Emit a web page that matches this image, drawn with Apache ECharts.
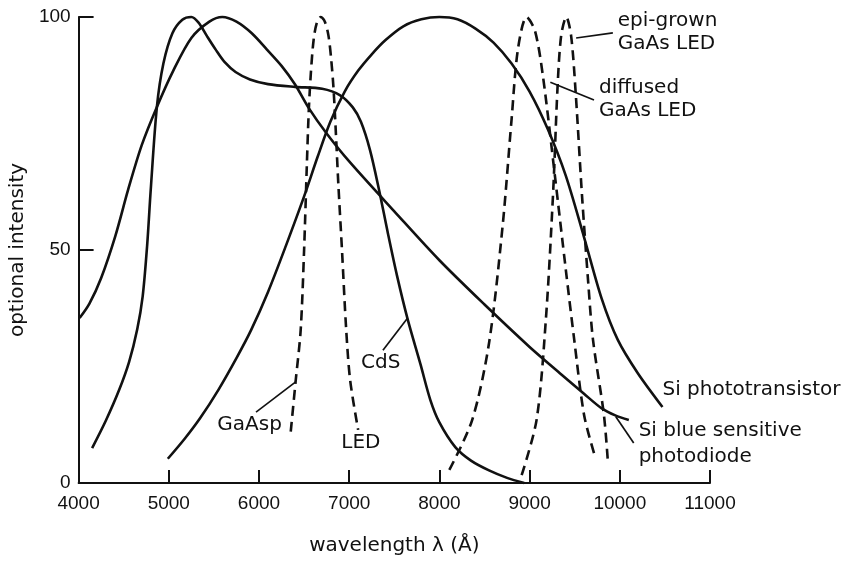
<!DOCTYPE html>
<html><head><meta charset="utf-8">
<script src="https://cdn.jsdelivr.net/npm/echarts@6/dist/echarts.min.js"></script>
<style>html,body{margin:0;padding:0;background:#fff}#c{width:849px;height:565px}</style>
</head><body><div id="c"></div>
<script>
// axis ranges / ticks
const xMin = 4000, xMax = 11000, xStep = 1000;
const yMin = 0, yMax = 100, yStep = 50;

// solid curves [wavelength (Å), intensity]
const cds = [[4150,7.5],[4300,13.3],[4450,20],[4560,26],[4650,33],[4710,40],[4760,51],[4800,63],[4868,80.7],[4940,90],[5040,96.5],[5150,99.4],[5250,100],[5330,98.8],[5420,96],[5520,93],[5620,90.3],[5740,88.2],[5900,86.6],[6100,85.6],[6400,85],[6700,84.6],[6900,83.2],[7040,80.6],[7130,77.5],[7230,71.5],[7330,63],[7430,53.5],[7530,44.5],[7650,35],[7790,25.5],[7900,17.8],[8000,13],[8176,7.7],[8350,4.8],[8550,2.7],[8750,1.1],[8940,0]];
const siBlue = [[4011,35.4],[4120,38.5],[4250,44],[4407,53],[4550,63],[4700,72.5],[4868,80.7],[5050,88.5],[5250,95.5],[5450,99],[5593,100],[5750,99],[5920,96.5],[6088,93],[6250,89.5],[6400,85.5],[6550,80.5],[6750,75],[7000,69],[7500,58.3],[8000,47.8],[8500,38.3],[9000,29.2],[9352,23.3],[9600,19.2],[9800,16],[9950,14.5],[10100,13.5]];
const siPhoto = [[4989,5.2],[5176,9.5],[5350,14],[5550,20],[5750,26.8],[5912,32.8],[6100,41],[6300,51],[6500,61.5],[6650,70],[6791,77.5],[6950,84],[7100,88.5],[7250,92],[7400,95],[7600,98],[7800,99.5],[8000,100],[8200,99.5],[8400,97.5],[8600,94.5],[8800,90],[9000,84],[9200,76],[9400,66],[9600,53],[9800,39.5],[9978,30.7],[10198,23.6],[10473,16.3]];
// dashed curves
const gaasp = [[6352,11],[6407,22],[6462,32.8],[6500,50],[6530,68],[6552,80],[6575,88],[6605,95],[6640,98.7],[6685,100],[6730,99],[6770,96],[6800,91],[6825,85],[6850,76],[6880,64],[6920,50],[6967,32.8],[7011,22],[7099,11.4]];
const diffused = [[8110,2.8],[8363,13.5],[8550,30],[8700,55],[8800,78],[8870,93],[8967,100],[9060,97],[9150,87],[9280,66],[9400,46],[9495,30.7],[9604,14.6],[9720,6]];
const epi = [[8912,1.7],[9077,13.5],[9180,35],[9260,62],[9310,85],[9350,96],[9407,100],[9460,96],[9510,84],[9580,62],[9650,43],[9703,30.7],[9824,14.6],[9870,4]];

// leader lines
const leaders = [
  [[9516,95.5],[9923,96.6]],
  [[9230,86],[9714,82.2]],
  [[9956,14.2],[10154,8.6]],
  [[7374,28.5],[7648,35.4]],
  [[5967,15.2],[6407,21.7]]
];
// annotation texts (left-middle anchor, in data coordinates)
const labelTexts = ['epi-grown','GaAs LED','diffused','GaAs LED','Si phototransistor','Si blue sensitive','photodiode','CdS','GaAsp','LED'];
const labelAt = [[9978,99.1],[9978,94.2],[9769,84.8],[9769,79.8],[10473,20],[10209,11.2],[10209,5.6],[7132,25.8],[5538,12.4],[6912,8.6]];

const ink = '#111';
const chart = echarts.init(document.getElementById('c'));
function curve(name, data, dashed){
  return {type:'line', name, data, smooth:0.3, symbol:'none', clip:false, silent:true,
    lineStyle:{color:ink, width:2.6, type: dashed ? [10,6] : 'solid', cap:'butt', join:'round'}};
}
const series = [
  curve('CdS', cds, false), curve('Si blue sensitive photodiode', siBlue, false),
  curve('Si phototransistor', siPhoto, false), curve('GaAsP LED', gaasp, true),
  curve('diffused GaAs LED', diffused, true), curve('epi-grown GaAs LED', epi, true)
];
leaders.forEach(d=>series.push({type:'line', data:d, symbol:'none', clip:false, silent:true, lineStyle:{color:ink, width:1.7}}));

chart.setOption({
  animation:false,
  grid:{left:74, right:139, top:17, bottom:82},
  xAxis:{type:'value', min:xMin, max:xMax, interval:xStep,
    name:'wavelength λ (Å)', nameLocation:'middle', nameGap:53,
    nameTextStyle:{fontFamily:'DejaVu Sans', fontSize:20, color:ink},
    axisLine:{onZero:false, lineStyle:{color:ink, width:2}},
    axisTick:{inside:true, length:13, lineStyle:{color:ink, width:2}},
    axisLabel:{fontFamily:'Liberation Sans', fontSize:19, color:ink, margin:11, formatter:v=>String(v)},
    splitLine:{show:false}},
  yAxis:{type:'value', min:yMin, max:yMax, interval:yStep,
    name:'optional intensity', nameLocation:'middle', nameGap:42,
    nameTextStyle:{fontFamily:'DejaVu Sans', fontSize:20, color:ink},
    axisLine:{show:true, lineStyle:{color:ink, width:2}},
    axisTick:{show:true, inside:true, length:15, lineStyle:{color:ink, width:2}},
    axisLabel:{fontFamily:'Liberation Sans', fontSize:19, color:ink, margin:8, formatter:v=>String(v)},
    splitLine:{show:false}},
  series
});
const graphic = labelTexts.map((t,i)=>{
  const p = chart.convertToPixel({gridIndex:0}, labelAt[i]);
  return {type:'text', x:p[0], y:p[1], silent:true,
    style:{text:t, fontFamily:'DejaVu Sans', fontSize:20, fill:ink, align:'left', verticalAlign:'middle'}};
});
chart.setOption({graphic});
</script></body></html>
